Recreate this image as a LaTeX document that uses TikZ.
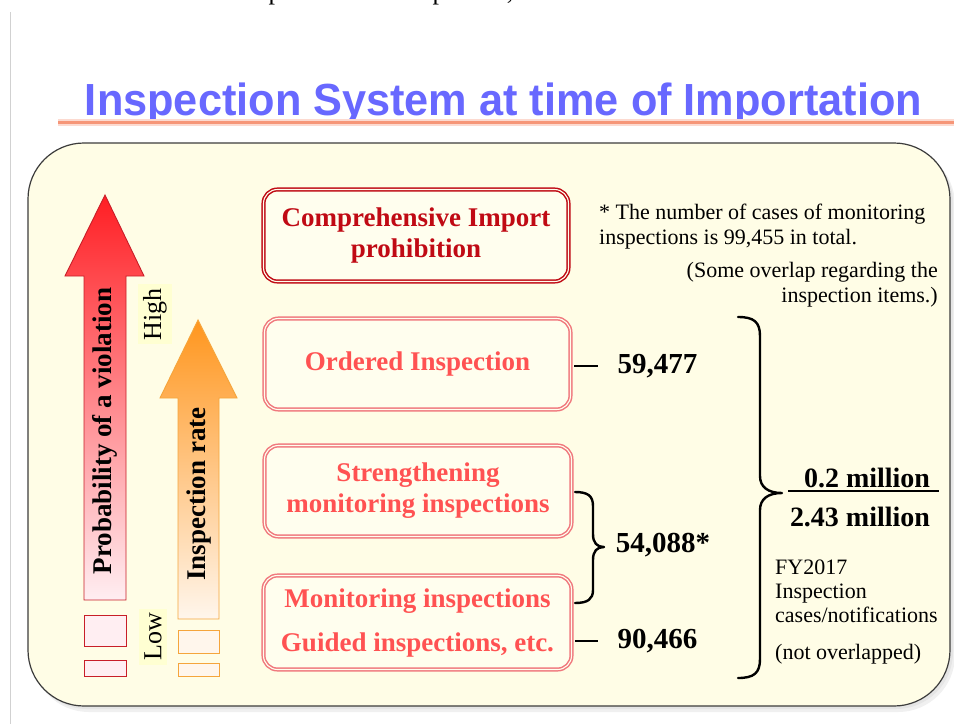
\documentclass[tikz,border=0pt]{standalone}
\usepackage{fontspec}
\setmainfont{Liberation Serif}
\newfontfamily\headfont{Liberation Sans}

\definecolor{headblue}{RGB}{104,104,255}
\definecolor{rulesalmon}{RGB}{246,150,120}
\definecolor{panelfill}{RGB}{255,253,230}
\definecolor{panelline}{RGB}{60,60,60}
\definecolor{boxfill}{RGB}{255,254,238}
\definecolor{darkred}{RGB}{192,10,20}
\definecolor{coralline}{RGB}{240,120,125}
\definecolor{coraltext}{RGB}{255,82,82}
\definecolor{arrowred}{RGB}{255,30,35}
\definecolor{arrowredlow}{RGB}{255,238,242}
\definecolor{arrowredline}{RGB}{200,30,40}
\definecolor{arroworange}{RGB}{255,150,30}
\definecolor{arroworangelow}{RGB}{255,246,236}
\definecolor{arroworangeline}{RGB}{245,165,60}
\definecolor{tagfill}{RGB}{255,255,210}

\tikzset{
  measurebox/.style={rounded corners=14pt, line width=1.5pt, double distance=1.1pt,
    fill=boxfill, double=boxfill, align=center, inner sep=0pt,
    font=\bfseries\fontsize{27}{31}\selectfont},
  topbox/.style={measurebox, draw=darkred, text=darkred},
  lowbox/.style={measurebox, draw=coralline, text=coraltext},
  count/.style={font=\bfseries\fontsize{29}{32}\selectfont, inner sep=0pt},
  note/.style={font=\fontsize{22}{25}\selectfont, inner sep=0pt},
  bracket/.style={line width=2.4pt, line cap=round, line join=round},
  tick/.style={line width=2.6pt},
  levelword/.style={rotate=90, font=\fontsize{26}{28}\selectfont, fill=tagfill,
    inner xsep=4pt, inner ysep=5pt},
  axisword/.style={rotate=90, font=\bfseries\fontsize{27}{30}\selectfont, inner sep=0pt},
  cutword/.style={font=\fontsize{26}{28}\selectfont, anchor=base, inner sep=0pt},
}

\begin{document}
\begin{tikzpicture}[x=1pt,y=-1pt]
\useasboundingbox (0,0) rectangle (954,724);
\fill[white] (0,0) rectangle (954,724);

% descenders of the line above, cut by the page edge
\node[cutword] (cutA) at (275,-0.5) {p};
\node[cutword] (cutB) at (439,-0.5) {p};
\node[cutword] (cutC) at (510,-0.5) {,};

% page margin rule
\draw[black!18, line width=1pt] (10,12) -- (10,724);

% heading and its rule
\node[font=\headfont\bfseries\fontsize{45}{50}\selectfont, text=headblue, anchor=base, inner sep=0pt]
  (heading) at (503.5,115) {\resizebox{837pt}{\height}{Inspection System at time of Importation}};
\draw[rulesalmon!35, line width=7pt] (58,122) -- (954,122);
\draw[rulesalmon, line width=3pt] (58,122) -- (954,122);

% panel with soft shadow
\fill[black!6, rounded corners=57pt] (32,148) rectangle (955,712);
\fill[black!10, rounded corners=57pt] (30,146) rectangle (953,709);
\node[draw=panelline, fill=panelfill, line width=1.2pt, rounded corners=56pt,
  minimum width=922pt, minimum height=563pt, inner sep=0pt] (panel) at (489,424.5) {};

% probability arrow
\path[draw=arrowredline, line width=0.9pt, top color=arrowred, bottom color=arrowredlow]
  (105,195) -- (144,276) -- (126,276) -- (126,600) -- (84,600) -- (84,276) -- (65,276) -- cycle;
\draw[arrowredline, line width=0.9pt, fill=arrowredlow] (84,615) rectangle (126,646);
\draw[arrowredline, line width=0.9pt, fill=arrowredlow] (84,660) rectangle (126,676);
\node[axisword] (probability) at (105,431) {Probability of a violation};

% inspection-rate arrow
\path[draw=arroworangeline, line width=0.9pt, top color=arroworange, bottom color=arroworangelow]
  (198,320) -- (237,398) -- (219,398) -- (219,619) -- (178,619) -- (178,398) -- (160,398) -- cycle;
\draw[arroworangeline, line width=0.9pt, fill=arroworangelow] (178,630) rectangle (219,653);
\draw[arroworangeline, line width=0.9pt, fill=arroworangelow] (178,663) rectangle (219,676);
\node[axisword] (rate) at (199,494) {Inspection rate};

% level tags
\node[levelword] (high) at (155,314) {High};
\node[levelword] (low) at (153,637) {Low};

% inspection levels
\node[topbox, minimum width=305pt, minimum height=92pt] (ban) at (416,235.5)
  {Comprehensive Import\\prohibition};
\node[lowbox, minimum width=306pt, minimum height=91pt] (ordered) at (417.5,364)
  {Ordered Inspection};
\node[lowbox, minimum width=307pt, minimum height=91pt] (strength) at (418,491)
  {Strengthening\\monitoring inspections};
\node[lowbox, minimum width=308pt, minimum height=94pt] (monitor) at (417.5,622.5)
  {Monitoring inspections\\[13pt]Guided inspections, etc.};

% counts
\node[count] (n59) at (657.5,366) {59,477};
\node[count] (n54) at (663,545) {54,088*};
\node[count] (n90) at (657.5,641) {90,466};

\draw[tick] ([xshift=3pt,yshift=-2pt]ordered.east) -- (n59.west -| 598,0);
\draw[tick] ([xshift=3pt]monitor.east |- n90.west) -- (n90.west -| 598,0);

% brace joining the two monitoring levels
\coordinate (sbTop) at (575,492);
\coordinate (sbBot) at (575,603);
\coordinate (sbTip) at (604,547);
\draw[bracket] (sbTop) .. controls (588,492) and (593,496) .. (593,506) -- (593,534)
  .. controls (593,543) and (597,547) .. (sbTip)
  .. controls (597,547) and (593,551) .. (593,560) -- (593,590)
  .. controls (593,599) and (588,603) .. (sbBot);

% totals
\node[font=\bfseries\fontsize{28}{30}\selectfont, inner sep=0pt] (share) at (867,478) {0.2 million};
\node[font=\bfseries\fontsize{28}{30}\selectfont, inner sep=0pt] (total) at (860,517) {2.43 million};
\draw[line width=2.4pt] (788,491) -- (939,491);

% brace over all counts
\coordinate (bbTop) at (738,317);
\coordinate (bbBot) at (738,678);
\coordinate (bbTip) at (782,493);
\draw[bracket] (bbTop) .. controls (754,317) and (760,322) .. (760,336) -- (760,476)
  .. controls (760,487) and (768,493) .. (bbTip)
  .. controls (768,493) and (760,499) .. (760,510) -- (760,659)
  .. controls (760,673) and (754,678) .. (bbBot);

% notes
\node[note, align=left, anchor=north west] (star) at (599,204)
  {* The number of cases of monitoring\\inspections is 99,455 in total.};
\node[note, align=right, anchor=north east] (overlap) at (938,262)
  {(Some overlap regarding the\\inspection items.)};
\node[note, align=left, anchor=north west] (fy) at (775,560)
  {FY2017\\[-1pt]Inspection\\[-1pt]cases/notifications\\[12pt](not overlapped)};
\end{tikzpicture}
\end{document}
